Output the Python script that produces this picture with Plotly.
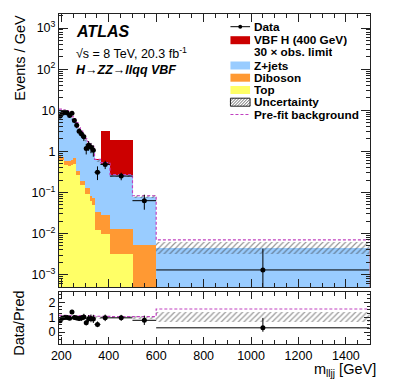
import plotly.graph_objects as go

# binning (GeV)
edges = [190, 200, 210, 220, 230, 240, 250, 260, 270, 280, 290, 300, 310, 320, 330,
         340, 365, 405, 500, 600, 1500]

# events / GeV
data = [7.2, 8.5, 8.9, 8.6, 7.4, 8.5, 5.6, 4.3, 3.1, 2.65, 2.25, 1.18, 1.4, 1.25, 1.07,
        0.31, 0.48, 0.25, 0.063, 0.0013]
data_err_up = [0.85, 0.92, 0.94, 0.93, 0.86, 0.92, 0.75, 0.66, 0.56, 0.51, 0.47, 0.34, 0.37, 0.35, 0.33,
               0.12, 0.11, 0.052, 0.025, 0.003]
data_err_dn = [0.85, 0.92, 0.94, 0.93, 0.86, 0.92, 0.75, 0.66, 0.56, 0.51, 0.47, 0.34, 0.37, 0.35, 0.33,
               0.11, 0.11, 0.052, 0.025, 0.0012]

top = [0.62, 0.60, 0.47, 0.47, 0.45, 0.47, 0.50, 0.27, 0.27, 0.155, 0.155, 0.09, 0.09, 0.063, 0.05,
       0.012, 0.010, 0.0031, 0.0, 0.0]
diboson = [0.13, 0.14, 0.11, 0.11, 0.13, 0.13, 0.17, 0.06, 0.06, 0.035, 0.035, 0.04, 0.04, 0.02, 0.024,
           0.022, 0.018, 0.0099, 0.0053, 0.0003]
zjets = [8.65, 8.16, 8.42, 8.22, 7.32, 5.7, 5.03, 4.17, 3.07, 2.61, 2.01, 1.72, 1.42, 1.27, 1.13,
         0.566, 0.472, 0.247, 0.074, 0.0042]
vbf_signal = [0, 0, 0, 0, 0, 0, 0, 0, 0, 0, 0, 0, 0, 0, 0,
              0.06, 2.7, 1.6, 0, 0]

unc_up = [0.7, 0.65, 0.65, 0.6, 0.55, 0.45, 0.4, 0.32, 0.25, 0.2, 0.16, 0.13, 0.11, 0.1, 0.09,
          0.05, 0.04, 0.02, 0.008, 0.0016]
unc_dn = [0.7, 0.65, 0.65, 0.6, 0.55, 0.45, 0.4, 0.32, 0.25, 0.2, 0.16, 0.13, 0.11, 0.1, 0.09,
          0.05, 0.04, 0.02, 0.008, 0.0013]
prefit = [10.6, 10.0, 10.1, 9.8, 8.8, 7.0, 6.3, 5.0, 3.8, 3.1, 2.45, 2.05, 1.72, 1.5, 1.32,
          0.64, 0.53, 0.27, 0.083, 0.0070]

RED = "#cc0000"
BLUE = "#99ccff"
ORANGE = "#ff9933"
YELLOW = "#ffff66"
MAG = "#c040c0"
FONT = "Liberation Sans, Arial, sans-serif"

centers = [(a + b) / 2 for a, b in zip(edges[:-1], edges[1:])]
widths = [b - a for a, b in zip(edges[:-1], edges[1:])]
half = [w / 2 for w in widths]
total = [z + d + t for z, d, t in zip(zjets, diboson, top)]

fig = go.Figure()

# stacked histograms drawn as overlaid cumulative bars
stack = [
    ([t + s for t, s in zip(total, vbf_signal)], RED),
    (total, BLUE),
    ([d + t for d, t in zip(diboson, top)], ORANGE),
    (top, YELLOW),
]
for vals, col in stack:
    fig.add_trace(go.Bar(x=centers, y=vals, width=widths, marker=dict(color=col, line=dict(width=0)),
                         xaxis="x", yaxis="y", showlegend=False))

hatch = dict(color="rgba(0,0,0,0)", line=dict(width=0),
             pattern=dict(shape="/", fgcolor="#333", size=4, solidity=0.3))
fig.add_trace(go.Bar(x=centers, y=[u + d for u, d in zip(unc_up, unc_dn)],
                     base=[t - d for t, d in zip(total, unc_dn)], width=widths,
                     marker=hatch, xaxis="x", yaxis="y", showlegend=False))

fig.add_trace(go.Scatter(x=edges, y=prefit + [prefit[-1]], mode="lines", line_shape="hv",
                         line=dict(color=MAG, width=1.2, dash="3px,2px"),
                         xaxis="x", yaxis="y", showlegend=False))

fig.add_trace(go.Scatter(x=centers, y=data, mode="markers", marker=dict(color="black", size=5),
                         error_y=dict(type="data", array=data_err_up, arrayminus=data_err_dn,
                                      color="black", thickness=1, width=0),
                         error_x=dict(type="data", array=half, color="black", thickness=1, width=0),
                         xaxis="x", yaxis="y", showlegend=False))

# ratio panel
ratio = [d / t for d, t in zip(data, total)]
r_up = [e / t for e, t in zip(data_err_up, total)]
r_dn = [e / t for e, t in zip(data_err_dn, total)]
fig.add_trace(go.Bar(x=centers, y=[(u + d) / t for u, d, t in zip(unc_up, unc_dn, total)],
                     base=[1 - d / t for d, t in zip(unc_dn, total)], width=widths,
                     marker=hatch, xaxis="x2", yaxis="y2", showlegend=False))
pre_ratio = [p / t for p, t in zip(prefit, total)]
fig.add_trace(go.Scatter(x=edges, y=pre_ratio + [pre_ratio[-1]], mode="lines", line_shape="hv",
                         line=dict(color=MAG, width=1.2, dash="3px,2px"),
                         xaxis="x2", yaxis="y2", showlegend=False))
fig.add_trace(go.Scatter(x=centers, y=ratio, mode="markers", marker=dict(color="black", size=5),
                         error_y=dict(type="data", array=r_up, arrayminus=r_dn,
                                      color="black", thickness=1, width=0),
                         error_x=dict(type="data", array=half, color="black", thickness=1, width=0),
                         xaxis="x2", yaxis="y2", showlegend=False))

W, H = 399, 383
def px(x):
    return x / W
def py(y):
    return 1 - y / H

dom_x = [px(52), px(369)]
log_major = [1e-3, 1e-2, 1e-1, 1, 10, 100, 1000]
log_text = ["10<sup>−3</sup>", "10<sup>−2</sup>", "10<sup>−1</sup>", "1", "10", "10<sup>2</sup>", "10<sup>3</sup>"]
log_minor = [m * 10 ** e for e in range(-4, 4) for m in range(2, 10)]

axis_common = dict(showline=True, linecolor="#222", linewidth=1, mirror="ticks", ticks="inside",
                   tickcolor="#222", showgrid=False, zeroline=False,
                   tickfont=dict(family=FONT, size=12.5, color="black"))

fig.update_layout(
    width=W, height=H, margin=dict(l=0, r=0, t=0, b=0),
    paper_bgcolor="white", plot_bgcolor="white",
    barmode="overlay", bargap=0, showlegend=False,
    font=dict(family=FONT, color="black"),
    xaxis=dict(domain=dom_x, range=[190, 1500], anchor="y", showticklabels=False,
               tick0=200, dtick=200, ticklen=8,
               minor=dict(ticks="inside", dtick=50, tick0=200, ticklen=4, tickcolor="#222"),
               **axis_common),
    yaxis=dict(domain=[py(287), py(14)], type="log", range=[-3.301, 3.342], anchor="x",
               tickmode="array", tickvals=log_major, ticktext=log_text, ticklen=9,
               minor=dict(ticks="inside", tickmode="array", tickvals=log_minor, ticklen=4, tickcolor="#222"),
               **axis_common),
    xaxis2=dict(domain=dom_x, range=[190, 1500], anchor="y2",
                tick0=200, dtick=200, ticklen=7,
                minor=dict(ticks="inside", dtick=50, tick0=200, ticklen=4, tickcolor="#222"),
                **axis_common),
    yaxis2=dict(domain=[py(344), py(292)], range=[-0.8, 2.7], anchor="x2",
                tickmode="array", tickvals=[0, 1, 2], ticklen=6,
                minor=dict(ticks="inside", dtick=0.25, tick0=0, ticklen=3, tickcolor="#222"),
                **axis_common),
)

ann = []
def text(x, y, s, size=12, xanchor="left", angle=0, yanchor="middle", pad=1, h=None):
    ann.append(dict(x=px(x), y=py(y), xref="paper", yref="paper", text=s, showarrow=False,
                    xanchor=xanchor, yanchor=yanchor, textangle=angle, borderpad=pad, height=h,
                    font=dict(family=FONT, size=size, color="black")))

text(67, 31.5, "<b><i>ATLAS</i></b>", 16)
text(67, 53, "√s = 8 TeV, 20.3 fb<sup>-1</sup>", 12.5)
text(67, 70.5, "<b><i>H→ZZ→llqq VBF</i></b>", 12.5)
text(12, 58, "Events / GeV", 14.5, "center", -90)
text(11, 323, "Data/Pred", 14.5, "center", -90)
text(378, 370, "m<sub>lljj</sub> [GeV]", 14.5, "right")

# legend
shapes = []
lx0, lx1, tx = 227, 247, 250
rows = {"Data": 26.7, "VBF H (400 GeV)": 40.2, "30 × obs. limit": 52.5, "Z+jets": 65.5,
        "Diboson": 77.7, "Top": 90, "Uncertainty": 102.2, "Pre-fit background": 114.5}
for label, y in rows.items():
    text(tx, y, "<b>%s</b>" % label, 11.8, pad=0, h=12)

def box(y, col):
    shapes.append(dict(type="rect", xref="paper", yref="paper", x0=px(lx0), x1=px(lx1),
                       y0=py(y + 4), y1=py(y - 4), fillcolor=col, line=dict(width=0)))

box(rows["VBF H (400 GeV)"], RED)
box(rows["Z+jets"], BLUE)
box(rows["Diboson"], ORANGE)
box(rows["Top"], YELLOW)

yd = rows["Data"]
shapes.append(dict(type="line", xref="paper", yref="paper", x0=px(lx0), x1=px(lx1), y0=py(yd), y1=py(yd),
                   line=dict(color="black", width=1)))
shapes.append(dict(type="circle", xref="paper", yref="paper", x0=px(235), x1=px(239), y0=py(yd + 2), y1=py(yd - 2),
                   fillcolor="black", line=dict(width=0)))

yu = rows["Uncertainty"]
path = ""
for k in range(-8, 22, 3):
    xa, ya = lx0 + k, yu + 4
    xb, yb = xa + 8, yu - 4
    if xa < lx0:
        ya -= lx0 - xa
        xa = lx0
    if xb > lx1:
        yb += xb - lx1
        xb = lx1
    if xb > xa:
        path += "M%.4f,%.4f L%.4f,%.4f " % (px(xa), py(ya), px(xb), py(yb))
shapes.append(dict(type="path", xref="paper", yref="paper", path=path, line=dict(color="#444", width=0.8)))
shapes.append(dict(type="rect", xref="paper", yref="paper", x0=px(lx0), x1=px(lx1),
                   y0=py(yu + 4), y1=py(yu - 4), line=dict(color="#222", width=1)))

yp = rows["Pre-fit background"]
shapes.append(dict(type="line", xref="paper", yref="paper", x0=px(lx0), x1=px(lx1), y0=py(yp), y1=py(yp),
                   line=dict(color=MAG, width=1.2, dash="3px,2px")))

fig.update_layout(annotations=ann, shapes=shapes)
fig.write_html("out.html", config={"displayModeBar": False},
               post_script="document.body.style.margin='0';")
